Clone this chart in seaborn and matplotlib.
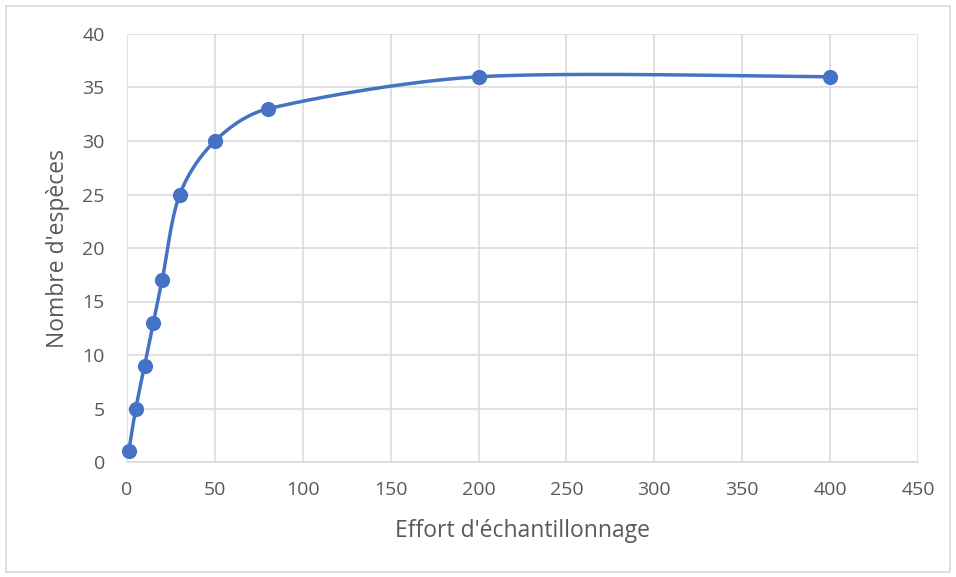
import numpy as np
import pandas as pd
import matplotlib
matplotlib.use("Agg")
import matplotlib.pyplot as plt
import seaborn as sns
from matplotlib.patches import Rectangle

effort = [1, 5, 10, 15, 20, 30, 50, 80, 200, 400]
especes = [1, 5, 9, 13, 17, 25, 30, 33, 36, 36]
x_ticks = [0, 50, 100, 150, 200, 250, 300, 350, 400, 450]
y_ticks = [0, 5, 10, 15, 20, 25, 30, 35, 40]

LINE = "#4472C4"
GRID = "#D9D9D9"
TXT = "#595959"

sns.set_theme(style="white")
plt.rcParams['font.family'] = ['Open Sans', 'DejaVu Sans']

W, H = 956, 577
L, R, T, B = 127, 918, 34, 462
fig = plt.figure(figsize=(W / 100, H / 100), dpi=100)
ax = fig.add_axes([L / W, 1 - B / H, (R - L) / W, (B - T) / H])
ax.set_xlim(0, 450)
ax.set_ylim(0, 40)

# Excel-style smoothed line, computed in screen space from the data points
sx = (R - L) / 450.0
sy = (B - T) / 40.0
P = np.column_stack([np.array(effort) * sx, np.array(especes) * sy]).astype(float)
n = len(P)
cx, cy = [], []
t = np.linspace(0, 1, 80)
for i in range(n - 1):
    p0, p3 = P[i], P[i + 1]
    pm = P[i - 1] if i > 0 else P[i]
    pp = P[i + 2] if i + 2 < n else P[i + 1]
    chord = np.linalg.norm(p3 - p0)
    d1 = p3 - pm
    d2 = pp - p0
    l1 = min(np.linalg.norm(d1) / 6, chord / 3)
    l2 = min(np.linalg.norm(d2) / 6, chord / 3)
    c1 = p0 + d1 / np.linalg.norm(d1) * l1
    c2 = p3 - d2 / np.linalg.norm(d2) * l2
    b = ((1 - t) ** 3)[:, None] * p0 + (3 * (1 - t) ** 2 * t)[:, None] * c1 \
        + (3 * (1 - t) * t ** 2)[:, None] * c2 + (t ** 3)[:, None] * p3
    cx.extend(b[:, 0] / sx); cy.extend(b[:, 1] / sy)

curve = pd.DataFrame({"x": cx, "y": cy})
pts = pd.DataFrame({"effort": effort, "especes": especes})

ax.plot(curve["x"], curve["y"], color=LINE, lw=2.5, solid_capstyle="round",
        zorder=3, clip_on=False)
sns.scatterplot(data=pts, x="effort", y="especes", ax=ax, color=LINE, s=120,
                edgecolor=LINE, linewidth=0, zorder=4, clip_on=False)

ax.set_xlim(0, 450)
ax.set_ylim(0, 40)
ax.set_xticks(x_ticks)
ax.set_yticks(y_ticks)
ax.grid(True, color=GRID, lw=1.1)
ax.set_axisbelow(True)
for s in ["top", "right", "left"]:
    ax.spines[s].set_visible(False)
ax.spines["bottom"].set_color(GRID)
ax.spines["bottom"].set_linewidth(1.1)
ax.tick_params(axis="both", length=0, labelsize=14, labelcolor=TXT)
ax.tick_params(axis="y", pad=16)
ax.tick_params(axis="x", pad=14)
ax.set_xlabel("Effort d'échantillonnage", fontsize=16.5, color=TXT, labelpad=12)
ax.set_ylabel("Nombre d'espèces", fontsize=16.5, color=TXT, labelpad=12)
ax.xaxis.set_label_coords(0.5, -(531 - B) / (B - T), transform=ax.transAxes)
ax.xaxis.label.set_va("center")
ax.yaxis.set_label_coords(-(L - 58) / (R - L), 0.5, transform=ax.transAxes)
ax.yaxis.label.set_va("center")

fig.patches.append(Rectangle((6 / W, 1 - 572 / H), (950 - 6) / W, (572 - 6) / H,
                             transform=fig.transFigure, fill=False,
                             edgecolor=GRID, lw=1.2))

fig.savefig("out.png", dpi=100, facecolor="white")
